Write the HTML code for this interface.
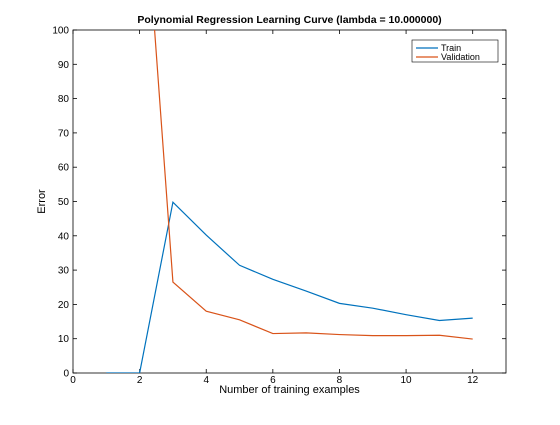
<!DOCTYPE html>
<html><head><meta charset="utf-8"><style>
body{margin:0;background:#fff;}
text{font-family:"Liberation Sans",sans-serif;}
</style></head><body>
<svg id="chart" width="560" height="420" xmlns="http://www.w3.org/2000/svg">
<rect width="560" height="420" fill="#fff"/>
<defs><clipPath id="clip"><rect x="73" y="30" width="433" height="343"/></clipPath></defs>
<g id="axes"></g>
<g id="series" clip-path="url(#clip)"></g>
<g id="legend"></g>
</svg>
<script>
const xs = [1,2,3,4,5,6,7,8,9,10,11,12];
const trainErr = [0,0,49.8,40.2,31.4,27.3,23.9,20.3,18.9,17.0,15.3,16.0];
const valErr = [300,160,26.5,18.0,15.5,11.5,11.7,11.2,10.9,10.9,11.0,9.9];
const xTicks = [0,2,4,6,8,10,12];
const yTicks = [0,10,20,30,40,50,60,70,80,90,100];
const L=73,R=506,T=30,B=373;
const xMin=0,xMax=13,yMin=0,yMax=100;
const sx=v=>L+(v-xMin)/(xMax-xMin)*(R-L);
const sy=v=>B-(v-yMin)/(yMax-yMin)*(B-T);
const NS="http://www.w3.org/2000/svg";
function mk(tag,attrs,parent,txt){const e=document.createElementNS(NS,tag);for(const k in attrs)e.setAttribute(k,attrs[k]);if(txt!==undefined)e.textContent=txt;parent.appendChild(e);return e;}
const ax=document.getElementById('axes');
let box=mk('rect',{x:L,y:T,width:R-L,height:B-T,fill:'none',stroke:'#000','stroke-width':0.8},ax);


xTicks.forEach(t=>{
  mk('line',{x1:sx(t),x2:sx(t),y1:B,y2:B-4,stroke:'#000','stroke-width':0.8},ax);
  mk('line',{x1:sx(t),x2:sx(t),y1:T,y2:T+4,stroke:'#000','stroke-width':0.8},ax);
  const lb=mk('text',{x:sx(t),y:B+10,'font-size':10,'text-anchor':'middle'},ax,String(t));
  
  
});
yTicks.forEach(t=>{
  mk('line',{x1:L,x2:L+4,y1:sy(t),y2:sy(t),stroke:'#000','stroke-width':0.8},ax);
  mk('line',{x1:R,x2:R-4,y1:sy(t),y2:sy(t),stroke:'#000','stroke-width':0.8},ax);
  const lb=mk('text',{x:L-4,y:sy(t)+3.5,'font-size':10,'text-anchor':'end'},ax,String(t));
  
  
});
let tt=mk('text',{x:(L+R)/2,y:23,'font-size':10.5,'font-weight':'bold','text-anchor':'middle'},ax,'Polynomial Regression Learning Curve (lambda = 10.000000)');


let xt=mk('text',{x:(L+R)/2,y:393,'font-size':11,'text-anchor':'middle'},ax,'Number of training examples');


let yt=mk('text',{x:0,y:0,'font-size':11,'text-anchor':'middle',transform:`translate(45,${(T+B)/2}) rotate(-90)`},ax,'Error');


const sg=document.getElementById('series');
function line(vals,color,name){
  const p=mk('polyline',{points:xs.map((x,i)=>sx(x)+','+sy(vals[i])).join(' '),fill:'none',stroke:color,'stroke-width':1.2},sg);
  
  
}
line(trainErr,'#0072bd','train-line');
line(valErr,'#d95319','validation-line');
const lg=document.getElementById('legend');
let lb=mk('rect',{x:412,y:40,width:86,height:22,fill:'#fff',stroke:'#000','stroke-width':0.6},lg);


[['Train','#0072bd',48],['Validation','#d95319',57]].forEach(([n,c,y])=>{
  mk('line',{x1:416,x2:438,y1:y,y2:y,stroke:c,'stroke-width':1.2},lg);
  const t=mk('text',{x:441,y:y+3,'font-size':9},lg,n);
  
  
});
</script>
</body></html>
